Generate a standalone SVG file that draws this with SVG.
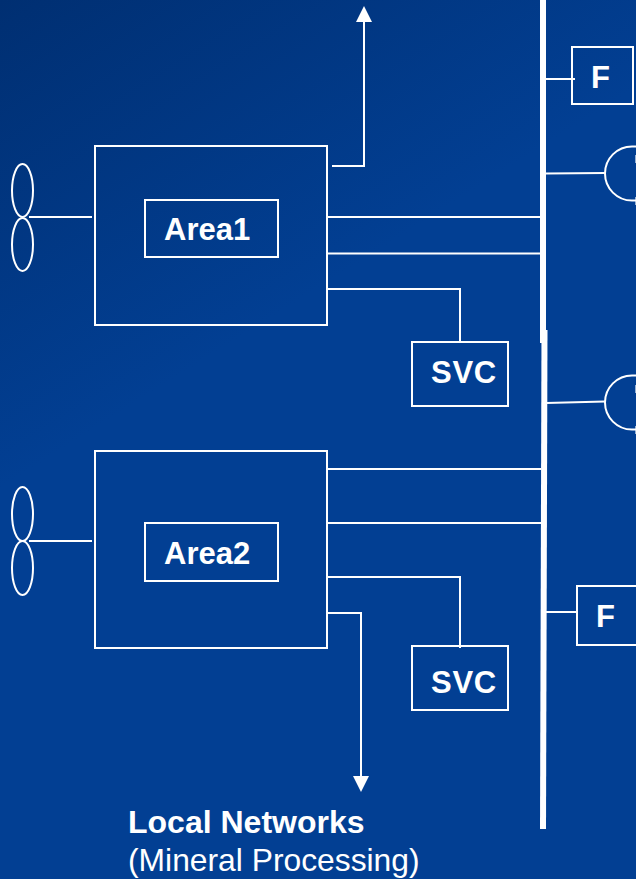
<svg xmlns="http://www.w3.org/2000/svg" width="636" height="879" viewBox="0 0 636 879">
<style>
.l{fill:none;stroke:#fff;stroke-width:2}
.b{fill:none;stroke:#fff;stroke-width:2}
.bus{fill:none;stroke:#fff;stroke-width:6}
text{font-family:"Liberation Sans",Arial,sans-serif;fill:#fff}
.t{font-weight:bold;font-size:31px}
.s{letter-spacing:.7px}
.e{fill:none;stroke:#fff;stroke-width:2}
.c{fill:#fff;opacity:.6}
</style>
<defs>
<linearGradient id="bg" gradientUnits="userSpaceOnUse" x1="0" y1="0" x2="220" y2="350">
<stop offset="0" stop-color="#002f72"/><stop offset="1" stop-color="#023f93"/>
</linearGradient>
</defs>
<rect width="636" height="879" fill="url(#bg)"/>
<g id="connectors">
<path class="bus" d="M543 0V343"/>
<path class="bus" d="M544.500 330L543 829"/>
<path class="l" d="M332 166H365"/>
<path class="l" d="M364 166V20"/>
<polygon points="364,6 356,22 372,22" fill="#fff"/>
<path class="l" d="M327 217H541M327 253.500H541M327 289H460V342"/>
<path class="l" d="M327 469H541M327 523H541M327 577H460V648"/>
<path class="l" d="M327 613H361V778"/>
<polygon points="361,792 353,776 369,776" fill="#fff"/>
<path class="l" d="M29 217H92M29 541H92"/>
<path class="l" d="M546 79H575M546 173.500L605 173M546 403L605 401.500M546 612H577"/>
</g>
<g id="turbine1"><ellipse class="e" cx="22.500" cy="190.500" rx="10.500" ry="26.500"/><ellipse class="e" cx="22.500" cy="244.500" rx="10.500" ry="26.500"/></g>
<g id="turbine2"><ellipse class="e" cx="22.500" cy="514" rx="10.500" ry="27"/><ellipse class="e" cx="22.500" cy="568" rx="10.500" ry="27"/></g>
<g id="area1-box"><rect class="b" x="95" y="146" width="232" height="179"/></g>
<g id="area1"><rect class="b" x="145" y="200" width="133" height="57"/><text class="t" x="164" y="240">Area1</text></g>
<g id="area2-box"><rect class="b" x="95" y="451" width="232" height="197"/></g>
<g id="area2"><rect class="b" x="145" y="523" width="133" height="58"/><text class="t" x="164" y="564">Area2</text></g>
<g id="svc1"><rect class="b" x="412" y="342" width="96" height="64"/><text class="t s" x="431" y="383">SVC</text></g>
<g id="svc2"><rect class="b" x="412" y="646" width="96" height="64"/><text class="t s" x="431" y="693">SVC</text></g>
<g id="f1"><rect class="b" x="572" y="47" width="61" height="57"/><text class="t" x="591" y="88">F</text></g>
<g id="f2"><rect class="b" x="577" y="586" width="61" height="59"/><text class="t" x="596" y="627">F</text></g>
<g id="gen1"><path class="e" d="M636 146.500H632A27 27 0 0 0 632 200.500H636"/><rect class="c" x="635" y="155" width="1" height="8"/><rect class="c" x="635" y="197" width="1" height="8"/></g>
<g id="gen2"><path class="e" d="M636 375.500H632A27 27 0 0 0 632 429.500H636"/><rect class="c" x="635" y="385" width="1" height="8"/><rect class="c" x="635" y="426" width="1" height="8"/></g>
<g id="label"><text class="t" x="128" y="833" style="font-size:32px">Local Networks</text><text x="128" y="871" font-size="31.800">(Mineral Processing)</text></g>
</svg>
